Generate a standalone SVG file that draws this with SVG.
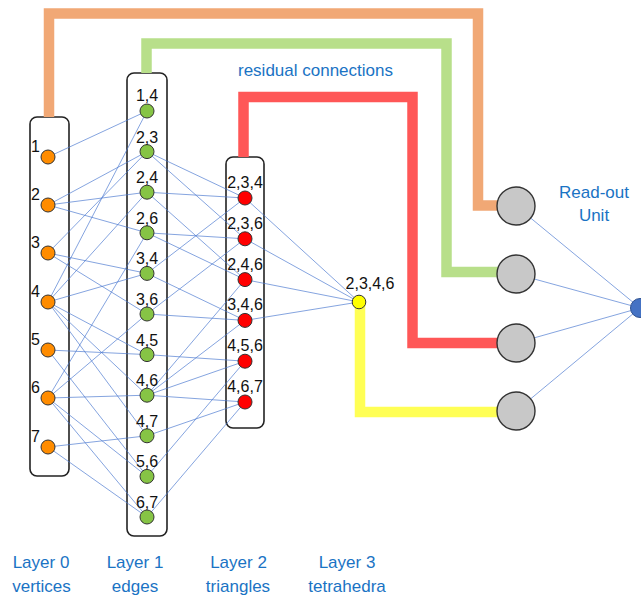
<svg xmlns="http://www.w3.org/2000/svg" width="641" height="597" viewBox="0 0 641 597">
<style>
.box{fill:#fff;stroke:#222;stroke-width:1.6}
.e{stroke:#4a78cf;stroke-width:0.8;stroke-opacity:0.85;fill:none}
.res{fill:none;stroke-width:10.5;stroke-linejoin:miter}
.n{stroke:#333;stroke-width:1}
.v{fill:#ff8c00}
.g{fill:#86c445}
.r{fill:#ff0000}
.y{fill:#ffff00}
.ro{fill:#c8c8c8;stroke:#333;stroke-width:1.4}
.lbl{font-family:"Liberation Sans",Arial,sans-serif;font-size:16px;fill:#111}
.blue{font-family:"Liberation Sans",Arial,sans-serif;font-size:17px;fill:#1a73c4;text-anchor:middle}
</style>
<rect width="641" height="597" fill="#fff"/>
<g id="boxes">
<rect class="box" x="30" y="117" width="39" height="359" rx="7"/>
<rect class="box" x="127" y="73" width="40" height="463" rx="7"/>
<rect class="box" x="226" y="157" width="38" height="271" rx="7"/>
</g>
<g id="residual">
<path class="res" stroke="#f1a875" d="M49,117 V13.5 H478 V205.5 H500"/>
<path class="res" stroke="#b8df8a" d="M146.5,73 V43.5 H446.5 V272 H500"/>
<path class="res" stroke="#ff5757" d="M243.5,157 V97 H412.5 V343 H500"/>
<path class="res" stroke="#ffff55" d="M360,302 V412 H500"/>
</g>
<g id="connectors">
<line class="e" x1="48" y1="157" x2="147" y2="111"/>
<line class="e" x1="48" y1="205" x2="147" y2="151.6"/>
<line class="e" x1="48" y1="205" x2="147" y2="192.2"/>
<line class="e" x1="48" y1="205" x2="147" y2="232.8"/>
<line class="e" x1="48" y1="253" x2="147" y2="151.6"/>
<line class="e" x1="48" y1="253" x2="147" y2="273.4"/>
<line class="e" x1="48" y1="253" x2="147" y2="314"/>
<line class="e" x1="48" y1="302" x2="147" y2="111"/>
<line class="e" x1="48" y1="302" x2="147" y2="192.2"/>
<line class="e" x1="48" y1="302" x2="147" y2="273.4"/>
<line class="e" x1="48" y1="302" x2="147" y2="354.6"/>
<line class="e" x1="48" y1="302" x2="147" y2="395.2"/>
<line class="e" x1="48" y1="302" x2="147" y2="435.8"/>
<line class="e" x1="48" y1="350" x2="147" y2="354.6"/>
<line class="e" x1="48" y1="350" x2="147" y2="476.4"/>
<line class="e" x1="48" y1="398" x2="147" y2="232.8"/>
<line class="e" x1="48" y1="398" x2="147" y2="314"/>
<line class="e" x1="48" y1="398" x2="147" y2="395.2"/>
<line class="e" x1="48" y1="398" x2="147" y2="476.4"/>
<line class="e" x1="48" y1="398" x2="147" y2="517"/>
<line class="e" x1="48" y1="447" x2="147" y2="435.8"/>
<line class="e" x1="48" y1="447" x2="147" y2="517"/>
<line class="e" x1="147" y1="151.6" x2="245" y2="198"/>
<line class="e" x1="147" y1="192.2" x2="245" y2="198"/>
<line class="e" x1="147" y1="273.4" x2="245" y2="198"/>
<line class="e" x1="147" y1="151.6" x2="245" y2="238.8"/>
<line class="e" x1="147" y1="232.8" x2="245" y2="238.8"/>
<line class="e" x1="147" y1="314" x2="245" y2="238.8"/>
<line class="e" x1="147" y1="192.2" x2="245" y2="279.6"/>
<line class="e" x1="147" y1="232.8" x2="245" y2="279.6"/>
<line class="e" x1="147" y1="395.2" x2="245" y2="279.6"/>
<line class="e" x1="147" y1="273.4" x2="245" y2="320.4"/>
<line class="e" x1="147" y1="314" x2="245" y2="320.4"/>
<line class="e" x1="147" y1="395.2" x2="245" y2="320.4"/>
<line class="e" x1="147" y1="354.6" x2="245" y2="361.2"/>
<line class="e" x1="147" y1="395.2" x2="245" y2="361.2"/>
<line class="e" x1="147" y1="476.4" x2="245" y2="361.2"/>
<line class="e" x1="147" y1="395.2" x2="245" y2="402"/>
<line class="e" x1="147" y1="435.8" x2="245" y2="402"/>
<line class="e" x1="147" y1="517" x2="245" y2="402"/>
<line class="e" x1="245" y1="198" x2="359" y2="302"/>
<line class="e" x1="245" y1="238.8" x2="359" y2="302"/>
<line class="e" x1="245" y1="279.6" x2="359" y2="302"/>
<line class="e" x1="245" y1="320.4" x2="359" y2="302"/>
<line class="e" x1="516" y1="206" x2="640" y2="308"/>
<line class="e" x1="516" y1="274" x2="640" y2="308"/>
<line class="e" x1="516" y1="343" x2="640" y2="308"/>
<line class="e" x1="516" y1="411" x2="640" y2="308"/>
</g>
<g id="layer0">
<g id="v1"><circle class="n v" cx="48" cy="157" r="7"/><text class="lbl" x="40" y="152" text-anchor="end">1</text></g>
<g id="v2"><circle class="n v" cx="48" cy="205" r="7"/><text class="lbl" x="40" y="200" text-anchor="end">2</text></g>
<g id="v3"><circle class="n v" cx="48" cy="253" r="7"/><text class="lbl" x="40" y="248" text-anchor="end">3</text></g>
<g id="v4"><circle class="n v" cx="48" cy="302" r="7"/><text class="lbl" x="40" y="297" text-anchor="end">4</text></g>
<g id="v5"><circle class="n v" cx="48" cy="350" r="7"/><text class="lbl" x="40" y="345" text-anchor="end">5</text></g>
<g id="v6"><circle class="n v" cx="48" cy="398" r="7"/><text class="lbl" x="40" y="393" text-anchor="end">6</text></g>
<g id="v7"><circle class="n v" cx="48" cy="447" r="7"/><text class="lbl" x="40" y="442" text-anchor="end">7</text></g>
</g>
<g id="layer1" text-anchor="middle">
<g id="e14"><circle class="n g" cx="147" cy="111" r="7"/><text class="lbl" x="147" y="101">1,4</text></g>
<g id="e23"><circle class="n g" cx="147" cy="151.6" r="7"/><text class="lbl" x="147" y="142.6">2,3</text></g>
<g id="e24"><circle class="n g" cx="147" cy="192.2" r="7"/><text class="lbl" x="147" y="183.2">2,4</text></g>
<g id="e26"><circle class="n g" cx="147" cy="232.8" r="7"/><text class="lbl" x="147" y="223.8">2,6</text></g>
<g id="e34"><circle class="n g" cx="147" cy="273.4" r="7"/><text class="lbl" x="147" y="264.4">3,4</text></g>
<g id="e36"><circle class="n g" cx="147" cy="314" r="7"/><text class="lbl" x="147" y="305">3,6</text></g>
<g id="e45"><circle class="n g" cx="147" cy="354.6" r="7"/><text class="lbl" x="147" y="345.6">4,5</text></g>
<g id="e46"><circle class="n g" cx="147" cy="395.2" r="7"/><text class="lbl" x="147" y="386.2">4,6</text></g>
<g id="e47"><circle class="n g" cx="147" cy="435.8" r="7"/><text class="lbl" x="147" y="426.8">4,7</text></g>
<g id="e56"><circle class="n g" cx="147" cy="476.4" r="7"/><text class="lbl" x="147" y="467.4">5,6</text></g>
<g id="e67"><circle class="n g" cx="147" cy="517" r="7"/><text class="lbl" x="147" y="508">6,7</text></g>
</g>
<g id="layer2" text-anchor="middle">
<g id="t234"><circle class="n r" cx="245" cy="198" r="7"/><text class="lbl" x="245" y="188">2,3,4</text></g>
<g id="t236"><circle class="n r" cx="245" cy="238.8" r="7"/><text class="lbl" x="245" y="228.8">2,3,6</text></g>
<g id="t246"><circle class="n r" cx="245" cy="279.6" r="7"/><text class="lbl" x="245" y="269.6">2,4,6</text></g>
<g id="t346"><circle class="n r" cx="245" cy="320.4" r="7"/><text class="lbl" x="245" y="310.4">3,4,6</text></g>
<g id="t456"><circle class="n r" cx="245" cy="361.2" r="7"/><text class="lbl" x="245" y="351.2">4,5,6</text></g>
<g id="t467"><circle class="n r" cx="245" cy="402" r="7"/><text class="lbl" x="245" y="392">4,6,7</text></g>
</g>
<g id="layer3">
<circle class="n y" cx="359" cy="302" r="6.8"/><text class="lbl" x="370" y="289" text-anchor="middle">2,3,4,6</text>
</g>
<g id="readout">
<circle class="ro" cx="516" cy="206" r="19"/>
<circle class="ro" cx="516" cy="274" r="19"/>
<circle class="ro" cx="516" cy="343" r="19"/>
<circle class="ro" cx="516" cy="411" r="19"/>
<text class="blue" x="594" y="198">Read-out</text>
<text class="blue" x="594" y="221">Unit</text>
</g>
<g id="output"><circle cx="640" cy="308" r="9.5" fill="#4472c4" stroke="#2f528f" stroke-width="1"/></g>
<g id="labels">
<text class="blue" x="315.5" y="76">residual connections</text>
<text class="blue" x="41" y="568">Layer 0</text>
<text class="blue" x="41.5" y="592">vertices</text>
<text class="blue" x="135" y="568">Layer 1</text>
<text class="blue" x="135" y="592">edges</text>
<text class="blue" x="238.5" y="568">Layer 2</text>
<text class="blue" x="238" y="592">triangles</text>
<text class="blue" x="347" y="568">Layer 3</text>
<text class="blue" x="347" y="592">tetrahedra</text>
</g>
</svg>
